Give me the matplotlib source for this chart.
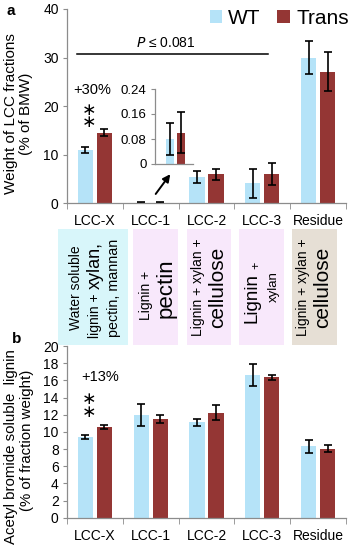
import matplotlib
matplotlib.use("Agg")
import matplotlib.pyplot as plt
import numpy as np
from matplotlib.patches import Rectangle

plt.rcParams['font.family'] = ['Liberation Sans', 'DejaVu Sans']

# ---------------- data ----------------
categories = ['LCC-X', 'LCC-1', 'LCC-2', 'LCC-3', 'Residue']
series_names = ['WT', 'Trans']

wt_weight = [11.0, 0.08, 5.3, 4.1, 30.0]
wt_weight_err = [0.6, 0.05, 1.25, 3.0, 3.4]
trans_weight = [14.5, 0.10, 5.9, 6.0, 27.1]
trans_weight_err = [0.75, 0.065, 1.1, 2.25, 4.0]

wt_lignin = [9.4, 12.0, 11.1, 16.6, 8.3]
wt_lignin_err = [0.2, 1.28, 0.4, 1.26, 0.78]
trans_lignin = [10.6, 11.5, 12.2, 16.35, 8.05]
trans_lignin_err = [0.25, 0.46, 0.87, 0.33, 0.41]

top_yticks = [0, 10, 20, 30, 40]
bottom_yticks = [0, 2, 4, 6, 8, 10, 12, 14, 16, 18, 20]
inset_yticks = [0, 0.08, 0.16, 0.24]
inset_yticklabels = ['0', '0.08', '0.16', '0.24']

# ---------------- style ----------------
WT_C = '#b5e3f8'
TR_C = '#943634'
SPINE_C = '#8c8c8c'
W = 360
H = 545


def fx(px):
    return px / W


def fy(py):
    return 1 - py / H


fig = plt.figure(figsize=(3.6, 5.45), dpi=100)

x = np.arange(len(categories))
bw = 0.27
off = 0.17
ekw = dict(ecolor='black', elinewidth=1.2, capsize=2.8, capthick=1.2)


def style_axes(ax, yticks, ylim):
    ax.set_xlim(-0.5, len(categories) - 0.5)
    ax.set_ylim(*ylim)
    ax.set_yticks(yticks)
    for s in ['top', 'right']:
        ax.spines[s].set_visible(False)
    for s in ['left', 'bottom']:
        ax.spines[s].set_color(SPINE_C)
        ax.spines[s].set_linewidth(0.9)
    ax.tick_params(axis='y', length=3, color=SPINE_C, labelsize=10, pad=3)
    ax.set_xticks(x)
    ax.set_xticklabels(categories, fontsize=10)
    ax.tick_params(axis='x', length=0, pad=8)
    ax.set_xticks(np.arange(-0.5, len(categories)), minor=True)
    ax.tick_params(axis='x', which='minor', length=4, color=SPINE_C)


def asterisks(ax, xv, yv):
    ax.text(xv, yv, '∗\n∗', ha='center', va='center', fontsize=12.5, family='DejaVu Sans',
            linespacing=0.62)


# ---------------- panel a ----------------
ax1 = fig.add_axes([fx(67), fy(203), fx(346) - fx(67), fy(9) - fy(203)])
ax1.bar(x - off, wt_weight, bw, color=WT_C, yerr=wt_weight_err, error_kw=ekw, label=series_names[0])
ax1.bar(x + off, trans_weight, bw, color=TR_C, yerr=trans_weight_err, error_kw=ekw, label=series_names[1])
style_axes(ax1, top_yticks, (0, 40))

leg = ax1.legend(loc='upper right', bbox_to_anchor=(1.04, 1.045), ncol=2, frameon=False,
                 fontsize=15, handlelength=0.6, handleheight=0.6, handletextpad=0.3,
                 columnspacing=0.8, borderaxespad=0)

# P line
ax1.plot([-0.32, 3.1], [30.7, 30.7], color='black', lw=1.1)
ax1.text(1.27, 33.0, r'$P$ ≤ 0.081', ha='center', va='center', fontsize=10)
ax1.text(-0.04, 23.3, '+30%', ha='center', va='center', fontsize=10.5)
asterisks(ax1, -0.1, 17.95)

# arrow to inset
ax1.annotate('', xy=(1.38, 6.4), xytext=(1.06, 1.4),
             arrowprops=dict(arrowstyle='-|>', color='black', lw=1.4, mutation_scale=11))

# inset
axi = fig.add_axes([fx(155), fy(164), fx(193) - fx(155), fy(89) - fy(164)])
axi.bar([-off], [wt_weight[1]], bw, color=WT_C, yerr=[wt_weight_err[1]], error_kw=ekw)
axi.bar([off], [trans_weight[1]], bw, color=TR_C, yerr=[trans_weight_err[1]], error_kw=ekw)
axi.set_xlim(-0.63, 0.54)
axi.set_ylim(0, 0.24)
axi.set_yticks(inset_yticks)
axi.set_yticklabels(inset_yticklabels)
axi.set_xticks([])
for s in ['top', 'right']:
    axi.spines[s].set_visible(False)
for s in ['left', 'bottom']:
    axi.spines[s].set_color(SPINE_C)
    axi.spines[s].set_linewidth(0.9)
axi.tick_params(axis='y', length=3, color=SPINE_C, labelsize=9.5, pad=3)
axi.patch.set_alpha(0)

# ---------------- panel b ----------------
ax2 = fig.add_axes([fx(67), fy(517.7), fx(346) - fx(67), fy(346) - fy(517.7)])
ax2.bar(x - off, wt_lignin, bw, color=WT_C, yerr=wt_lignin_err, error_kw=ekw)
ax2.bar(x + off, trans_lignin, bw, color=TR_C, yerr=trans_lignin_err, error_kw=ekw)
style_axes(ax2, bottom_yticks, (0, 20))
ax2.text(0.09, 16.4, '+13%', ha='center', va='center', fontsize=10.5)
asterisks(ax2, -0.1, 13.05)

# ---------------- labels ----------------
fig.text(fx(11), fy(11), 'a', fontsize=11, fontweight='bold', ha='center', va='center')
fig.text(fx(17), fy(339), 'b', fontsize=11, fontweight='bold', ha='center', va='center')

fig.text(fx(11), fy(113.5), 'Weight of LCC fractions', rotation=90, ha='center', va='center', fontsize=11)
fig.text(fx(26), fy(113.5), '(% of BMW)', rotation=90, ha='center', va='center', fontsize=11)
fig.text(fx(11), fy(447), 'Acetyl bromide soluble  lignin', rotation=90, ha='center', va='center', fontsize=10.8)
fig.text(fx(27), fy(440), '(% of fraction weight)', rotation=90, ha='center', va='center', fontsize=10.8)

# ---------------- composition boxes ----------------
box_top, box_bot = 229, 345
boxes = [(58, 128, '#d8f6fa'), (133, 178, '#f8e8fb'), (187, 231, '#f8e8fb'),
         (239, 284, '#f8e8fb'), (292, 337, '#e6dfd5')]
for x0, x1, c in boxes:
    fig.patches.append(Rectangle((fx(x0), fy(box_bot)), fx(x1) - fx(x0), fy(box_top) - fy(box_bot),
                                 transform=fig.transFigure, facecolor=c, edgecolor='none', zorder=0))


def vtext(px, py, s, size, ha='center'):
    fig.text(fx(px), fy(py), s, rotation=90, rotation_mode='anchor', ha=ha, va='center',
             fontsize=size)


# box 1
vtext(76, 288, 'Water soluble', 10)
vtext(95, 338, 'lignin +', 10, ha='left')
vtext(95, 242, 'xylan,', 13, ha='right')
vtext(114, 288, 'pectin, mannan', 10.3)
# box 2
vtext(146, 320, 'Lignin +', 10, ha='left')
vtext(166, 318, 'pectin', 16, ha='left')
# box 3
vtext(198, 287, 'Lignin + xylan +', 10)
vtext(218, 287, 'cellulose', 15)
# box 4
vtext(252, 323, 'Lignin', 13.5, ha='left')
vtext(256, 269, '+', 9, ha='left')
vtext(274, 287, 'xylan', 9.5)
# box 5
vtext(303, 287, 'Lignin + xylan +', 10)
vtext(323, 287, 'cellulose', 15)

fig.savefig('out.png', dpi=100)
